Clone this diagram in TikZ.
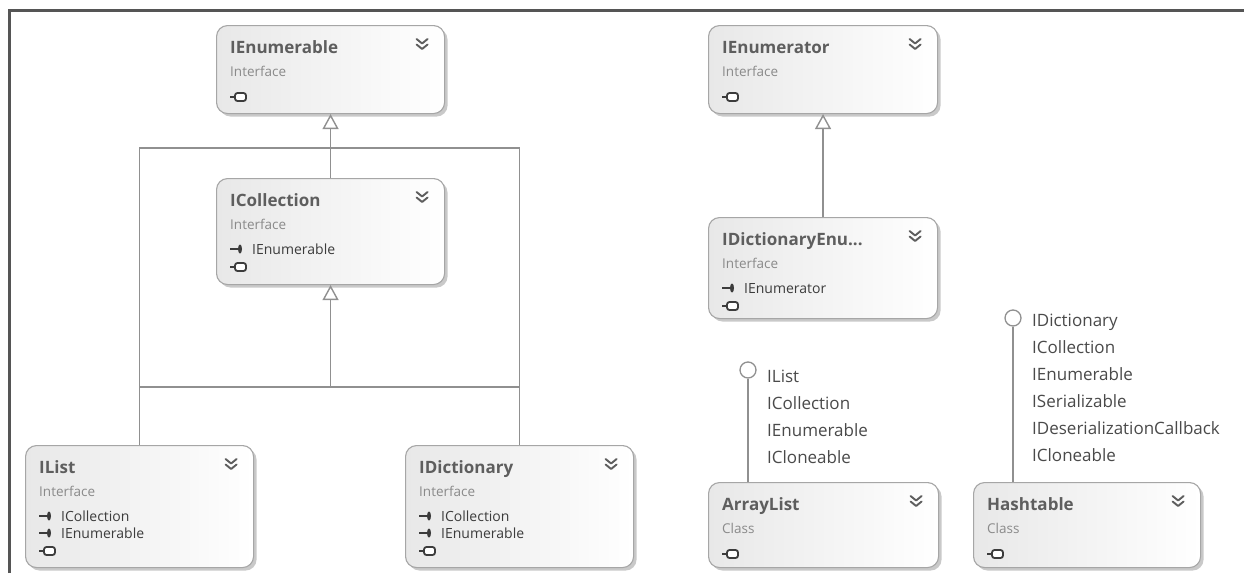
\documentclass[tikz,border=0pt]{standalone}
\usepackage{fontspec}
\setmainfont{Open Sans}
\usetikzlibrary{arrows.meta,calc,shadows}
\definecolor{framec}{HTML}{555555}
\definecolor{connc}{HTML}{909090}
\definecolor{bordc}{HTML}{A6A6A6}
\definecolor{ttlc}{HTML}{5E5E5E}
\definecolor{kndc}{HTML}{8A8A8A}
\definecolor{memc}{HTML}{3C3C3C}
\definecolor{lblc}{HTML}{4A4A4A}
\definecolor{shadc}{HTML}{C4C4C4}
\tikzset{
  cbox/.style={draw=bordc, line width=1.1pt, rounded corners=11pt, left color=gray!18, right color=white,
    drop shadow={shadow xshift=3pt, shadow yshift=-3pt, fill=shadc, opacity=0.9}, inner sep=0},
  ttl/.style={anchor=base west, inner sep=0, text=ttlc, font=\fontsize{17}{20}\selectfont\bfseries},
  knd/.style={anchor=base west, inner sep=0, text=kndc, font=\fontsize{13.5}{16}\selectfont},
  mem/.style={anchor=base west, inner sep=0, text=memc, font=\fontsize{14}{16}\selectfont},
  lbl/.style={anchor=base west, inner sep=0, text=lblc, font=\fontsize{17}{20}\selectfont},
  lolly/.style={circle, draw=connc, fill=white, line width=1.3pt, minimum size=16pt, inner sep=0},
  conn/.style={draw=connc, line width=1.4pt},
  inh/.style={conn, -{Triangle[open, length=15pt, width=16pt, fill=white]}},
  chev/.pic={\draw[ttlc, line width=1.9pt, line cap=round, line join=round]
     (-5.5,-6)--(0,-1.5)--(5.5,-6) (-5.5,-0.5)--(0,4)--(5.5,-0.5);},
  coll/.pic={\draw[memc, line width=1.2pt] (0,0)--(5,0);
     \draw[memc, line width=1.8pt, fill=white, rounded corners=2.5pt] (5,-4) rectangle (16,4);},
  impl/.pic={\draw[memc, line width=1.3pt] (0,0)--(9,0);
     \fill[memc] (10,0) ellipse [x radius=2pt, y radius=4.5pt];}
}
\newcommand\umlbox[7]{%
  \node[cbox, anchor=north west, minimum width=#4pt, minimum height=#5pt] (#1) at (#2,#3) {};
  \node[ttl] (#1-t) at ($(#1.north west)+(14,28)$) {#6};
  \node[knd] (#1-k) at ($(#1.north west)+(14,51)$) {#7};
  \pic at ($(#1.north east)+(-23,20)$) {chev};
}
\newcommand\umlmem[3]{%
  \pic at ($(#1.north west)+(14,59+17*#2-5)$) {impl};
  \node[mem] (#1-m#2) at ($(#1.north west)+(36,59+17*#2)$) {#3};
}
\newcommand\umlcoll[2]{\pic at ($(#1.north west)+(14,72+17*#2)$) {coll};}
\begin{document}
\begin{tikzpicture}[x=1pt,y=-1pt]
\useasboundingbox (0,0) rectangle (1244,573);
\fill[white] (0,0) rectangle (1244,573);
\draw[framec, line width=3pt] (9,573) -- (9,10) -- (1244,10);

% boxes
\umlbox{ienum}{216}{25}{228}{88}{IEnumerable}{Interface}
\umlcoll{ienum}{0}
\umlbox{icoll}{216}{178}{228}{106}{ICollection}{Interface}
\umlmem{icoll}{1}{IEnumerable}
\umlcoll{icoll}{1}
\umlbox{ilist}{25}{445}{228}{122}{IList}{Interface}
\umlmem{ilist}{1}{ICollection}
\umlmem{ilist}{2}{IEnumerable}
\umlcoll{ilist}{2}
\umlbox{idict}{405}{445}{228}{122}{IDictionary}{Interface}
\umlmem{idict}{1}{ICollection}
\umlmem{idict}{2}{IEnumerable}
\umlcoll{idict}{2}
\umlbox{ienumr}{708}{25}{229}{88}{IEnumerator}{Interface}
\umlcoll{ienumr}{0}
\umlbox{idenum}{708}{217}{229}{101}{IDictionaryEnu...}{Interface}
\umlmem{idenum}{1}{IEnumerator}
\umlcoll{idenum}{1}
\umlbox{alist}{708}{482}{230}{85}{ArrayList}{Class}
\umlcoll{alist}{0}
\umlbox{htable}{973}{482}{227}{85}{Hashtable}{Class}
\umlcoll{htable}{0}

% inheritance
\coordinate (j1) at (icoll.north |- 0,148);
\coordinate (j2) at (icoll.south |- 0,387);
\draw[inh] (icoll.north) -- (ienum.south);
\draw[inh] (j2) -- (icoll.south);
\draw[conn] (ilist.north) |- (j1) -| (idict.north);
\draw[conn] (ilist.north |- j2) -- (idict.north |- j2);
\draw[inh] (idenum.north) -- (ienumr.south);

% lollipops
\node[lolly] (al-l) at (748,370) {};
\draw[conn] (al-l.south) -- (al-l.south |- alist.north);
\node[lbl] (al-1) at (767,382) {IList};
\node[lbl] (al-2) at (767,409) {ICollection};
\node[lbl] (al-3) at (767,436) {IEnumerable};
\node[lbl] (al-4) at (767,463) {ICloneable};

\node[lolly] (ht-l) at (1013,318) {};
\draw[conn] (ht-l.south) -- (ht-l.south |- htable.north);
\node[lbl] (ht-1) at (1032,326) {IDictionary};
\node[lbl] (ht-2) at (1032,353) {ICollection};
\node[lbl] (ht-3) at (1032,380) {IEnumerable};
\node[lbl] (ht-4) at (1032,407) {ISerializable};
\node[lbl] (ht-5) at (1032,434) {IDeserializationCallback};
\node[lbl] (ht-6) at (1032,461) {ICloneable};
\end{tikzpicture}
\end{document}
